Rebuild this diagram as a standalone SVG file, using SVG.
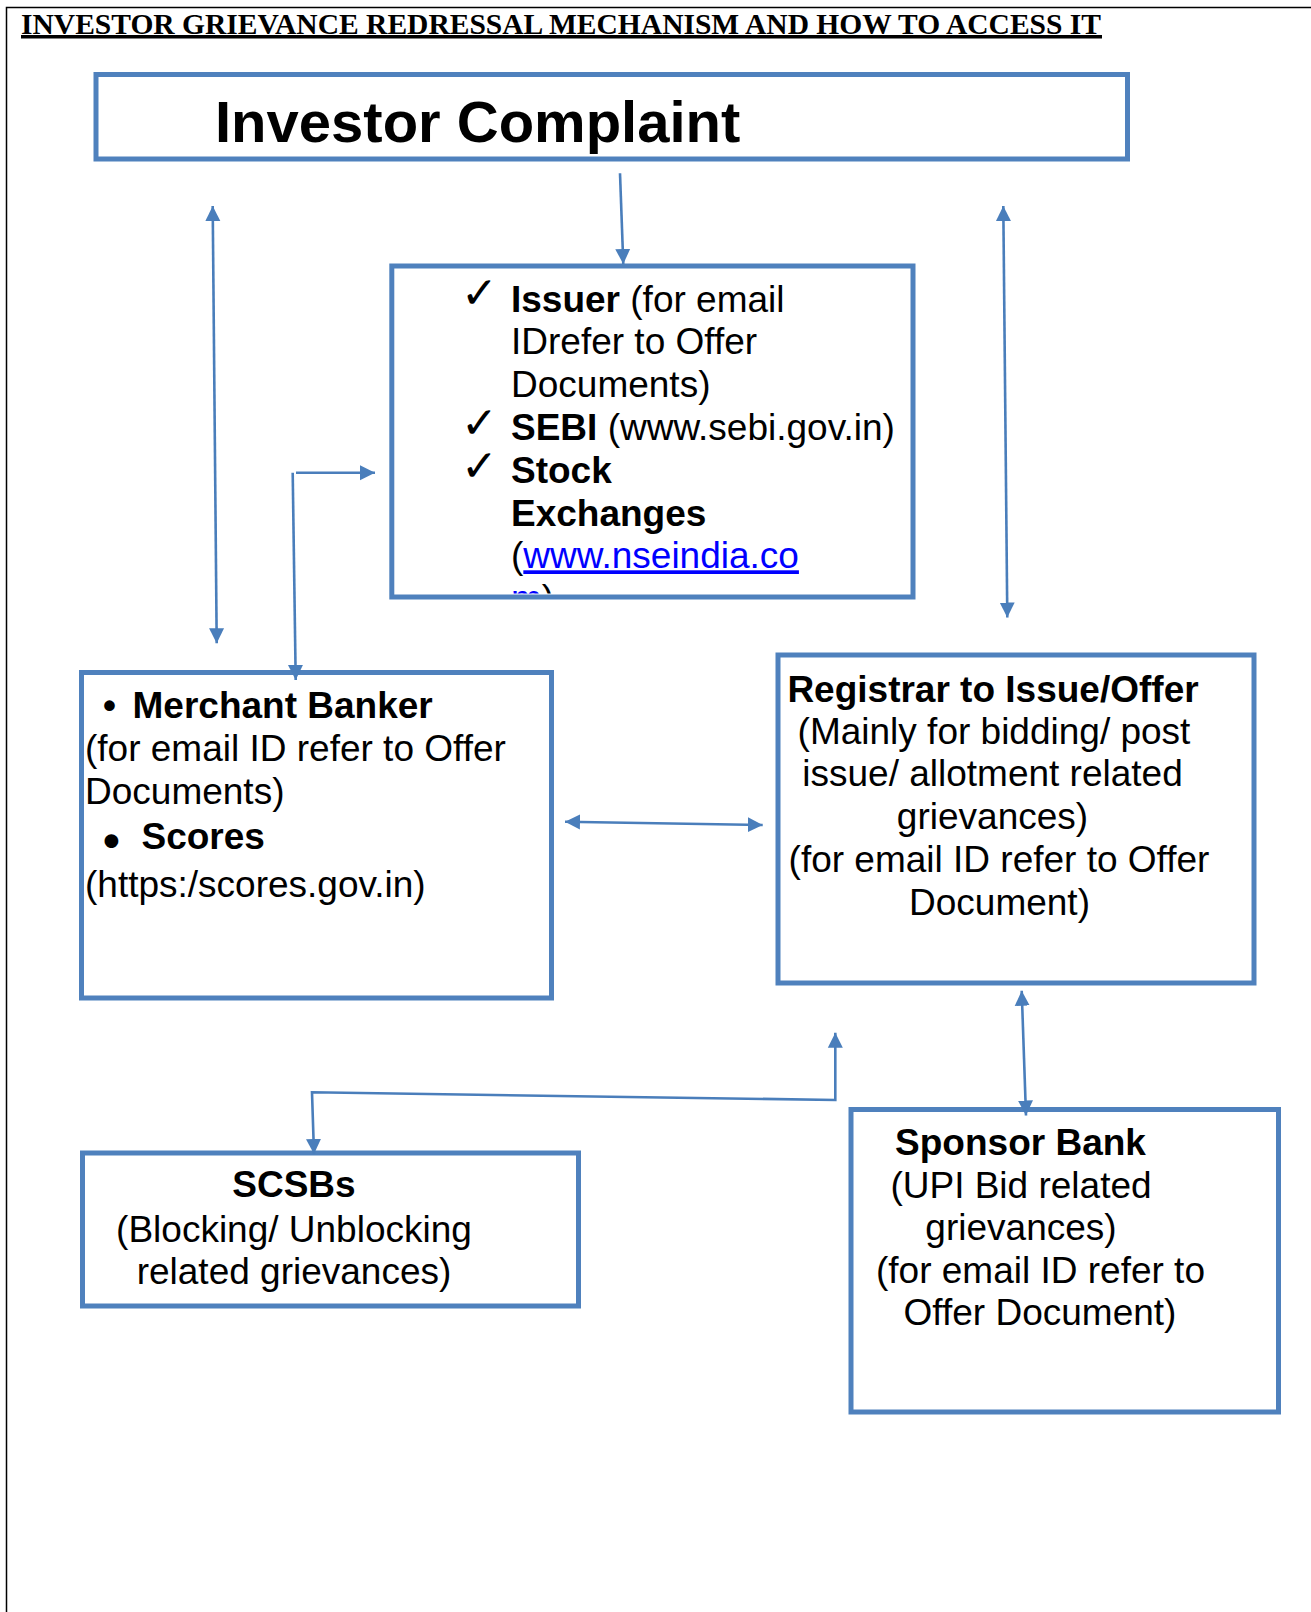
<svg xmlns="http://www.w3.org/2000/svg" width="1311" height="1612" viewBox="0 0 1311 1612">
<defs>
<style>
.box{fill:none;stroke:#4F81BD;stroke-width:5}
.conn{fill:none;stroke:#4A7EBB;stroke-width:2.6}
.t{font-family:"Liberation Sans",Arial,sans-serif;font-size:37px;fill:#000}
.b{font-weight:bold}
.chk{font-family:"DejaVu Sans",sans-serif;font-size:44px;fill:#000}
.link{fill:#0000FF;text-decoration:underline}
</style>
<marker id="ah" markerUnits="userSpaceOnUse" markerWidth="16" markerHeight="16" viewBox="0 0 16 16" refX="15" refY="8" orient="auto-start-reverse">
<path d="M0,0.5 L15,8 L0,15.5 z" fill="#4A7EBB"/>
</marker>
<clipPath id="issuerClip"><rect x="394" y="268" width="517" height="325.5"/></clipPath>
</defs>
<rect width="1311" height="1612" fill="#fff"/>
<path d="M6.5,1612 V7.5 H1311" fill="none" stroke="#000" stroke-width="1.5"/>

<g id="title">
<text x="21" y="33.5" font-family="'Liberation Serif','Times New Roman',serif" font-weight="bold" font-size="29" textLength="1080" lengthAdjust="spacingAndGlyphs">INVESTOR GRIEVANCE REDRESSAL MECHANISM AND HOW TO ACCESS IT</text>
<rect x="21" y="35" width="1081" height="3.5" fill="#000"/>
</g>

<g id="investor-complaint">
<rect class="box" x="96" y="74.5" width="1031.5" height="84.5"/>
<text class="t b" x="215" y="141.5" style="font-size:58px">Investor Complaint</text>
</g>

<g id="issuer">
<g clip-path="url(#issuerClip)">
<text class="chk" x="461" y="308">✓</text>
<text class="t" x="511" y="311.5"><tspan class="b">Issuer</tspan> (for email</text>
<text class="t" x="511" y="354.3">IDrefer to Offer</text>
<text class="t" x="511" y="397.1">Documents)</text>
<text class="chk" x="461" y="438">✓</text>
<text class="t" x="511" y="439.9"><tspan class="b">SEBI</tspan> (www.sebi.gov.in)</text>
<text class="chk" x="461" y="481">✓</text>
<text class="t b" x="511" y="482.7">Stock</text>
<text class="t b" x="511" y="525.5">Exchanges</text>
<text class="t" x="511" y="568.3">(<tspan class="link">www.nseindia.co</tspan></text>
<text class="t" x="511" y="611.1"><tspan class="link">m</tspan>)</text>
</g>
<rect class="box" x="391.8" y="266" width="521.2" height="331"/>
</g>

<g id="merchant-banker">
<rect class="box" x="81.5" y="672.5" width="470" height="325.5"/>
<text class="t b" x="103" y="717.7">•</text>
<text class="t b" x="132.5" y="717.7">Merchant Banker</text>
<text class="t" x="85" y="760.5">(for email ID refer to Offer</text>
<text class="t" x="85" y="803.5">Documents)</text>
<text class="t b" x="103" y="857" style="font-size:48px">•</text>
<text class="t b" x="141.5" y="848.5">Scores</text>
<text class="t" x="85" y="896.7">(https:/scores.gov.in)</text>
</g>

<g id="registrar">
<rect class="box" x="778" y="655" width="476" height="328"/>
<text class="t b" x="993" y="701.5" text-anchor="middle">Registrar to Issue/Offer</text>
<text class="t" x="994" y="743.5" text-anchor="middle">(Mainly for bidding/ post</text>
<text class="t" x="992.5" y="786" text-anchor="middle">issue/ allotment related</text>
<text class="t" x="992.5" y="828.5" text-anchor="middle">grievances)</text>
<text class="t" x="999" y="871.5" text-anchor="middle">(for email ID refer to Offer</text>
<text class="t" x="999.5" y="915" text-anchor="middle">Document)</text>
</g>

<g id="scsbs">
<rect class="box" x="82.5" y="1153" width="496" height="153"/>
<text class="t b" x="294" y="1197" text-anchor="middle">SCSBs</text>
<text class="t" x="294" y="1241.5" text-anchor="middle">(Blocking/ Unblocking</text>
<text class="t" x="294" y="1284" text-anchor="middle">related grievances)</text>
</g>

<g id="sponsor-bank">
<rect class="box" x="851" y="1109.5" width="427.5" height="302.5"/>
<text class="t b" x="1020.5" y="1155" text-anchor="middle">Sponsor Bank</text>
<text class="t" x="1021" y="1197.5" text-anchor="middle">(UPI Bid related</text>
<text class="t" x="1021" y="1240" text-anchor="middle">grievances)</text>
<text class="t" x="1040.5" y="1282.5" text-anchor="middle">(for email ID refer to</text>
<text class="t" x="1040" y="1325" text-anchor="middle">Offer Document)</text>
</g>

<g id="connectors">
<line class="conn" x1="212.7" y1="206" x2="216.7" y2="643.3" marker-start="url(#ah)" marker-end="url(#ah)"/>
<line class="conn" x1="620" y1="173.3" x2="623.3" y2="264" marker-end="url(#ah)"/>
<line class="conn" x1="1003.3" y1="206" x2="1007.3" y2="617.5" marker-start="url(#ah)" marker-end="url(#ah)"/>
<line class="conn" x1="296" y1="472.7" x2="375" y2="472.7" marker-end="url(#ah)"/>
<line class="conn" x1="292.7" y1="472.7" x2="295.7" y2="680" marker-end="url(#ah)"/>
<line class="conn" x1="565" y1="821.7" x2="762.7" y2="825" marker-start="url(#ah)" marker-end="url(#ah)"/>
<line class="conn" x1="1021.7" y1="990.7" x2="1026" y2="1115.5" marker-start="url(#ah)" marker-end="url(#ah)"/>
<polyline class="conn" points="835.3,1032.7 835.3,1100 312,1092.3 314,1154" marker-start="url(#ah)" marker-end="url(#ah)"/>
</g>
</svg>
